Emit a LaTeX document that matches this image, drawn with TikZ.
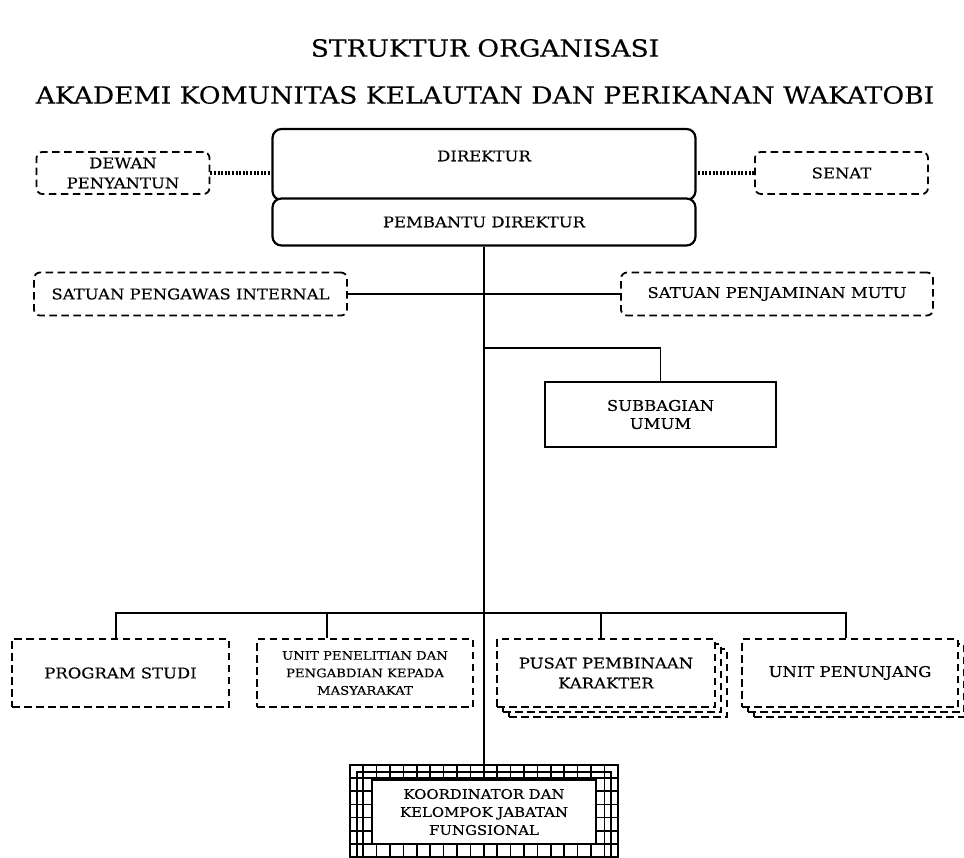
\documentclass[tikz,border=0pt]{standalone}
\usepackage{fontspec}
\setmainfont{DejaVu Serif}[FakeStretch=1.12, FakeBold=0.25]
\usetikzlibrary{calc}
\begin{document}
\begin{tikzpicture}[x=1pt,y=-1pt,
  lbl/.style={font=\fontsize{14.7}{20}\selectfont, align=center, inner sep=0pt},
  sml/.style={font=\fontsize{11.8}{17.5}\selectfont, align=center, inner sep=0pt},
  kml/.style={font=\fontsize{13.3}{18}\selectfont, align=center, inner sep=0pt},
  dashbox/.style={draw, line width=1.8pt, dash pattern=on 7.5pt off 4.5pt, fill=white, inner sep=0pt},
  rdash/.style={dashbox, rounded corners=6pt},
  solidbox/.style={draw, line width=1.8pt, fill=white, inner sep=0pt},
  conn/.style={line width=1.8pt},
  dotline/.style={line width=3.4pt, dash pattern=on 2pt off 1.6pt},
  gridln/.style={line width=1.6pt}
]
\useasboundingbox[fill=white] (0,0) rectangle (964,857);

% titles
\node[font=\fontsize{23.7}{26}\selectfont, inner sep=0pt] (t1) at (485,48) {STRUKTUR ORGANISASI};
\node[font=\fontsize{23.7}{26}\selectfont, inner sep=0pt] (t2) at (485,95) {AKADEMI KOMUNITAS KELAUTAN DAN PERIKANAN WAKATOBI};

% direktur block
\node[solidbox, rounded corners=9pt, line width=2.2pt, minimum width=423, minimum height=71] (dir) at (484,164.5) {};
\node[solidbox, rounded corners=9pt, line width=2.2pt, minimum width=423, minimum height=47] (pemb) at (484,222) {};
\node[lbl] (dirt) at (484,156) {DIREKTUR};
\node[lbl] (pembt) at (484,222) {PEMBANTU DIREKTUR};

% side boxes
\node[rdash, minimum width=173, minimum height=42, lbl] (dewan) at (123,173) {DEWAN\\PENYANTUN};
\node[rdash, minimum width=173, minimum height=42, lbl] (senat) at (841.5,173) {SENAT};
\node[rdash, minimum width=313, minimum height=43, lbl] (spi) at (190.5,294) {SATUAN PENGAWAS INTERNAL};
\node[rdash, minimum width=312, minimum height=43, lbl] (spm) at (777,294) {SATUAN PENJAMINAN MUTU};

\draw[dotline] (dewan.east) -- (dewan.east -| dir.west);
\draw[dotline] (senat.west) -- (senat.west -| dir.east);
\draw[conn] (spi.east) -- (spm.west);

% subbagian umum
\node[solidbox, minimum width=231, minimum height=65, lbl, font=\fontsize{14.7}{18}\selectfont] (sub) at (660.5,414.5) {SUBBAGIAN\\UMUM};

% bottom row
\node[dashbox, minimum width=217, minimum height=68, lbl] (ps) at (120.5,673) {PROGRAM STUDI};
\node[dashbox, minimum width=216, minimum height=68, sml] (up) at (365,673) {UNIT PENELITIAN DAN\\PENGABDIAN KEPADA\\MASYARAKAT};

\node[dashbox, minimum width=218, minimum height=68] (pk2) at (618,683) {};
\node[dashbox, minimum width=218, minimum height=68] (pk1) at (612,678) {};
\node[dashbox, minimum width=218, minimum height=68, lbl] (pk) at (606,673) {PUSAT PEMBINAAN\\KARAKTER};

\node[dashbox, minimum width=216, minimum height=68] (un2) at (862,683) {};
\node[dashbox, minimum width=216, minimum height=68] (un1) at (856,678) {};
\node[dashbox, minimum width=216, minimum height=68, lbl] (un) at (850,673) {UNIT PENUNJANG};

% koordinator grid box
\node[inner sep=0pt, minimum width=268, minimum height=120] (koord) at (484,825) {};
\begin{scope}
  \clip (koord.north west) rectangle (koord.south east);
  \foreach \i in {0,...,20} {
    \draw[gridln] ($(koord.north west)+(13.4*\i,0)$) -- ++(0,120);
  }
  \foreach \j in {0,...,9} {
    \draw[gridln] ($(koord.north west)+(0,13.2*\j)$) -- ++(268,0);
  }
  \draw[gridln] ($(koord.north west)+(7,7)$) rectangle ($(koord.south east)+(-7,-7)$);
\end{scope}
\draw[line width=2.2pt] (koord.north west) rectangle (koord.south east);
\node[solidbox, line width=1.6pt, minimum width=224, minimum height=64, kml] (kin) at (484,812) {KOORDINATOR DAN\\KELOMPOK JABATAN\\FUNGSIONAL};

% main trunk
\draw[conn] (pemb.south) -- (koord.north);
\coordinate (b1) at (484,348);
\draw[conn] (b1) -| (sub.north);
\coordinate (b2) at (484,613);
\draw[conn] ([xshift=105pt]ps.north west) |- (b2) -| ([xshift=105pt]un.north west);
\draw[conn] ([xshift=71pt]up.north west) -- ([xshift=71pt]up.north west |- b2);
\draw[conn] ([xshift=105pt]pk.north west) -- ([xshift=105pt]pk.north west |- b2);
\end{tikzpicture}
\end{document}
